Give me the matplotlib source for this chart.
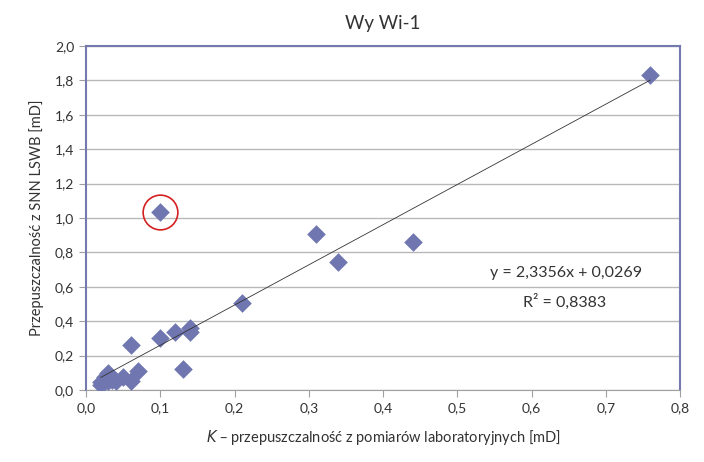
import matplotlib.pyplot as plt
import numpy as np

# Dane: K laboratoryjne vs przepuszczalność z SNN LSWB [mD]
k_lab = [0.76, 0.44, 0.34, 0.31, 0.21, 0.14, 0.14, 0.12, 0.10, 0.10, 0.13,
         0.06, 0.07, 0.06, 0.05, 0.04, 0.03, 0.035, 0.025, 0.02, 0.02, 0.03]
k_snn = [1.83, 0.86, 0.745, 0.905, 0.505, 0.36, 0.335, 0.335, 0.30, 1.035, 0.12,
         0.26, 0.11, 0.055, 0.075, 0.055, 0.10, 0.06, 0.075, 0.045, 0.03, 0.05]
outlier = (0.10, 1.035)

# Trend liniowy (jak w Excelu)
slope = 2.3356
intercept = 0.0269
r2 = 0.8383

plt.rcParams['font.family'] = ['Lato', 'DejaVu Sans']

fig = plt.figure(figsize=(7.04, 4.62), dpi=100)
ax = fig.add_axes([0.1222, 0.1558, 0.8437, 0.7446])

ax.set_xlim(0, 0.8)
ax.set_ylim(0, 2.0)
ax.set_xticks(np.arange(0, 0.81, 0.1))
ax.set_yticks(np.arange(0, 2.01, 0.2))
ax.set_xticklabels([f"{v:.1f}".replace('.', ',') for v in np.arange(0, 0.81, 0.1)])
ax.set_yticklabels([f"{v:.1f}".replace('.', ',') for v in np.arange(0, 2.01, 0.2)])
ax.grid(axis='y', color='#b8b8b8', linewidth=1)
ax.set_axisbelow(True)

for s in ['top', 'right', 'left']:
    ax.spines[s].set_color('#7479b0')
    ax.spines[s].set_linewidth(1.5)
ax.spines['bottom'].set_color('#a0a0a0')
ax.tick_params(direction='out', length=5, color='#a0a0a0', labelsize=10, labelcolor='#333333')

ax.scatter(k_lab, k_snn, marker='D', s=90, color='#6f76b0', zorder=3, linewidths=0)

xs = np.array([min(k_lab), max(k_lab)])
ax.plot(xs, slope * xs + intercept, color='#333333', linewidth=0.6, zorder=4)

ax.plot(*outlier, marker='o', markersize=25, fillstyle='none', markeredgecolor='#d42020',
        markeredgewidth=1.2, zorder=5)

ax.text(0.646, 0.68, f"y = {slope:.4f}x + {intercept:.4f}".replace('.', ','),
        ha='center', va='center', fontsize=11.5, color='#333333')
ax.text(0.645, 0.512, f"R² = {r2:.4f}".replace('.', ','),
        ha='center', va='center', fontsize=11.5, color='#333333')

ax.set_title("Wy Wi-1", fontsize=13.5, color='#333333', pad=12)
ax.set_ylabel("Przepuszczalność z SNN LSWB [mD]", fontsize=10.5, color='#333333', labelpad=8)
ax.set_xlabel("$K$ – przepuszczalność z pomiarów laboratoryjnych [mD]", fontsize=10.5,
              color='#333333', labelpad=10)

fig.savefig("out.png", dpi=100)
